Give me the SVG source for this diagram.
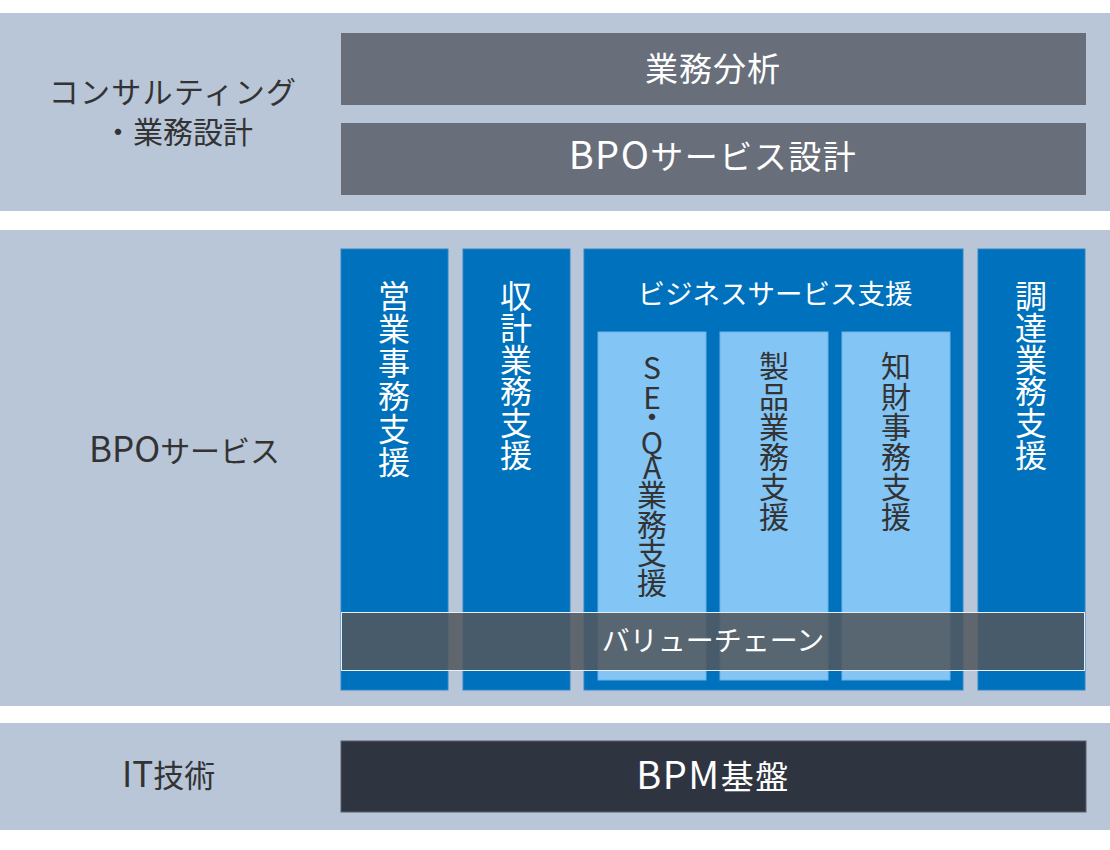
<svg xmlns="http://www.w3.org/2000/svg" width="1110" height="850" viewBox="0 0 1110 850">
<style>
  text { font-family: "Noto Sans CJK JP", "Noto Sans", sans-serif; }
  .band { fill: #b8c6d8; }
  .gbox { fill: #686e7a; }
  .blue { fill: #0071bc; stroke: #2f86c8; stroke-width: 1; }
  .light { fill: #83c5f5; stroke: #6db3e6; stroke-width: 1; }
  .dark { fill: #333333; }
  .white { fill: #ffffff; }
  .lbl { font-size: 30px; }
  .lat { font-size: 35px; }
  .vert { writing-mode: vertical-rl; text-orientation: upright; }
  .vt { font-size: 32px; }
  .vi { font-size: 30px; }
</style>
<rect width="1110" height="850" fill="#ffffff"/>

<g id="band-consulting">
  <rect class="band" x="0" y="13" width="1110" height="198"/>
  <text class="dark lbl" text-anchor="middle"><tspan x="173" y="103" letter-spacing="1.3">コンサルティング</tspan><tspan x="178" y="143">・業務設計</tspan></text>
</g>
<g id="node-gyomu-bunseki">
  <rect class="gbox" x="341" y="33" width="745" height="72"/>
  <text class="white" x="713" y="81" text-anchor="middle" font-size="33" letter-spacing="1">業務分析</text>
</g>
<g id="node-bpo-service-sekkei">
  <rect class="gbox" x="341" y="123" width="745" height="72"/>
  <text class="white" x="713" y="169" text-anchor="middle" font-size="33" letter-spacing="1.5"><tspan font-size="38">BPO</tspan>サービス設計</text>
</g>

<g id="band-bpo">
  <rect class="band" x="0" y="230" width="1110" height="476"/>
  <text class="dark lbl" x="89" y="462"><tspan class="lat">BPO</tspan>サービス</text>
</g>

<g id="node-eigyo">
  <rect class="blue" x="341" y="249" width="107" height="441"/>
  <text class="white vt vert" x="394" y="280" letter-spacing="1.2">営業事務支援</text>
</g>
<g id="node-shukei">
  <rect class="blue" x="463" y="249" width="107" height="441"/>
  <text class="white vt vert" x="516" y="280" letter-spacing="-0.3">収計業務支援</text>
</g>
<g id="node-business-service">
  <rect class="blue" x="584" y="249" width="379" height="441"/>
  <text class="white" x="775" y="304" text-anchor="middle" font-size="27.5">ビジネスサービス支援</text>
</g>
<g id="node-seqa">
  <rect class="light" x="598" y="332" width="108" height="348"/>
  <text class="dark vi vert" x="652" y="353 383 402 428 453 480 510 538 568">SE・QA業務支援</text>
</g>
<g id="node-seihin">
  <rect class="light" x="720" y="332" width="108" height="348"/>
  <text class="dark vi vert" x="774" y="351" letter-spacing="0.2">製品業務支援</text>
</g>
<g id="node-chizai">
  <rect class="light" x="842" y="332" width="108" height="348"/>
  <text class="dark vi vert" x="896" y="351" letter-spacing="0.2">知財事務支援</text>
</g>
<g id="node-chotatsu">
  <rect class="blue" x="978" y="249" width="107" height="441"/>
  <text class="white vt vert" x="1031" y="280" letter-spacing="-0.3">調達業務支援</text>
</g>
<g id="node-value-chain">
  <rect x="341.5" y="612.5" width="743" height="58" fill="#52575e" fill-opacity="0.87" stroke="#e8eef4" stroke-width="1"/>
  <text class="white" x="713" y="651" text-anchor="middle" font-size="28">バリューチェーン</text>
</g>

<g id="band-it">
  <rect class="band" x="0" y="723" width="1110" height="107"/>
  <text class="dark" x="122" y="787" font-size="31"><tspan font-size="35">IT</tspan>技術</text>
</g>
<g id="node-bpm">
  <rect x="341" y="741" width="745" height="71" fill="#2e3541" stroke="#566170" stroke-width="1"/>
  <text class="white" x="713" y="789" text-anchor="middle" font-size="33" letter-spacing="1.5"><tspan font-size="38">BPM</tspan>基盤</text>
</g>

<g id="connectors"></g>
</svg>
